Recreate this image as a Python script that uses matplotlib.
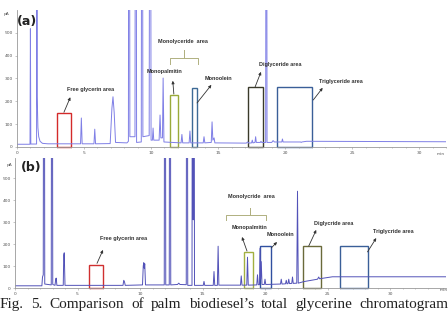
import matplotlib
matplotlib.use('Agg')
import matplotlib.pyplot as plt
from matplotlib.patches import Rectangle

# Trace (a): retention time (min) and signal (pA)
a_time = [0.0, 0.97, 1.0, 1.03, 1.46, 1.49, 1.51, 1.53, 1.56, 1.62, 1.72, 1.9, 2.3,
          4.74, 4.8, 4.86, 5.74, 5.8, 5.86, 6.95, 7.08, 7.16, 7.25, 7.35,
          8.2, 8.31, 8.36, 8.42, 8.8, 8.86, 8.92, 9.27, 9.33, 9.39, 9.86, 9.93, 10.0,
          10.1, 10.15, 10.2, 10.6, 10.67, 10.73, 10.85, 10.9, 10.96,
          12.24, 12.3, 12.36, 12.84, 12.9, 12.96, 13.89, 13.95, 14.01, 14.49, 14.55, 14.61, 14.7, 14.76,
          17.1, 17.2, 17.3, 17.5, 17.55, 17.6, 17.75, 17.8, 17.85, 18.15, 18.2, 18.25, 18.55, 18.6, 18.65,
          19.0, 19.1, 19.2, 19.75, 19.8, 19.85, 21.15, 21.2, 21.25, 21.6, 32.0]
a_signal = [12, 12, 518, 13, 13, 3000, 220, 160, 85, 45, 25, 16, 14,
            14, 127, 14, 14, 78, 14, 15, 170, 220, 150, 20,
            18, 25, 3000, 45, 45, 3000, 20, 22, 3000, 45, 50, 3000, 30,
            30, 83, 30, 30, 140, 40, 40, 302, 22,
            18, 55, 18, 18, 70, 18, 18, 45, 18, 20, 110, 30, 40, 18,
            17, 22, 17, 18, 30, 18, 20, 45, 20, 20, 25, 20, 20, 3000, 20,
            20, 28, 22, 22, 35, 22, 22, 20, 22, 25, 23]

# Trace (b)
b_time = [0.0, 2.15, 2.2, 2.26, 2.32, 2.38, 2.9, 2.96, 3.02, 3.2, 3.26, 3.3, 3.35, 3.86, 3.9, 3.94, 4.0,
          8.64, 8.7, 8.76, 8.82, 10.2, 10.26, 10.3, 10.34, 10.38, 10.44,
          11.94, 12.0, 12.06, 12.34, 12.4, 12.46, 13.0, 13.1, 13.2, 13.7, 13.76, 13.82,
          14.16, 14.22, 14.26, 14.3, 14.36, 15.06, 15.12, 15.18, 15.86, 15.92, 15.98, 16.19, 16.25, 16.31,
          18.04, 18.1, 18.16, 18.54, 18.6, 18.66, 19.34, 19.4, 19.46, 19.56, 19.6, 19.65, 19.7, 19.76,
          19.94, 20.0, 20.06, 21.24, 21.3, 21.36, 21.64, 21.7, 21.76, 21.84, 21.9, 21.96, 22.14, 22.2, 22.26,
          22.54, 22.6, 22.66, 23.1, 23.6, 24.2, 24.3, 24.36, 25.4, 34.5]
b_signal = [10, 10, 50, 60, 3000, 18, 14, 3000, 16, 12, 42, 45, 12, 12, 150, 160, 12,
            12, 35, 28, 12, 14, 100, 115, 90, 110, 14,
            14, 3000, 14, 14, 3000, 14, 16, 22, 16, 15, 3000, 12,
            12, 3000, 310, 3000, 12, 12, 30, 12, 12, 75, 12, 12, 190, 13,
            13, 55, 13, 13, 140, 13, 14, 60, 15, 15, 180, 40, 120, 16,
            16, 40, 16, 18, 40, 18, 19, 35, 19, 20, 40, 20, 21, 50, 21,
            22, 440, 22, 29, 34, 40, 50, 42, 51, 51]

# Marked areas: start, end (min) and height (pA)
a_box_start = [3.0, 11.4, 13.05, 17.2, 19.4]
a_box_end = [4.0, 12.0, 13.4, 18.35, 22.0]
a_box_top = [150, 228, 260, 262, 262]
a_box_color = ['#d42a2a', '#9aaa3a', '#3d6a96', '#3a3a2a', '#3a5f98']

b_box_start = [5.9, 18.3, 19.6, 23.0, 26.0]
b_box_end = [7.0, 19.0, 20.5, 24.5, 28.2]
b_box_top = [105, 165, 190, 190, 190]
b_box_color = ['#d03030', '#a2b040', '#3050a0', '#6a6a3a', '#3a5f98']

caption_words = ['Fig.', '5.', 'Comparison', 'of', 'palm', 'biodiesel\u2019s', 'total', 'glycerine', 'chromatogram']

fig = plt.figure(figsize=(4.48, 3.14), dpi=100)
ax_a = fig.add_axes([17/448, 1 - 147/314, 429/448, 137/314])
ax_b = fig.add_axes([15/448, 1 - 288/314, 431/448, 130/314])

ann_font = dict(fontsize=4, fontweight='bold', color='#333333', family='Liberation Sans')


def style_axis(ax, xmax, ymax):
    ax.set_xlim(0, xmax)
    ax.set_ylim(0, ymax)
    for s in ['top', 'right']:
        ax.spines[s].set_visible(False)
    for s in ['left', 'bottom']:
        ax.spines[s].set_color('#999999')
        ax.spines[s].set_linewidth(0.6)
    ax.set_xticks(range(0, 31, 5))
    ax.set_xticks(range(0, int(xmax) + 1), minor=True)
    ax.set_yticks(range(0, 501, 100))
    ax.tick_params(which='both', direction='out', length=1.5, width=0.4,
                   colors='#999999', labelsize=3.2, labelcolor='#555555', pad=1.5)
    ax.tick_params(which='minor', length=1)


def draw_boxes(ax, starts, ends, tops, colors):
    for s, e, h, c in zip(starts, ends, tops, colors):
        ax.add_patch(Rectangle((s, 0), e - s, h, fill=False, edgecolor=c, lw=1.0, clip_on=False))


def arrow(ax, x0, y0, x1, y1):
    ax.annotate('', xy=(x1, y1), xytext=(x0, y0),
                arrowprops=dict(arrowstyle='-|>', color='#333333', lw=0.6,
                                mutation_scale=4, shrinkA=0, shrinkB=0))


def brace(ax, x0, x1, xm, yb, yh, yt, color):
    ax.plot([x0, x0, xm, xm, xm, x1, x1], [yb, yh, yh, yt, yh, yh, yb],
            color=color, lw=0.7, solid_joinstyle='round')


# ---- panel (a)
style_axis(ax_a, 32, 600)
ax_a.plot(a_time, a_signal, color='#7f7fe6', lw=0.7)
draw_boxes(ax_a, a_box_start, a_box_end, a_box_top, a_box_color)

ax_a.text(3.75, 250, 'Free glycerin area', ha='left', va='center', **ann_font)
arrow(ax_a, 3.5, 152, 3.98, 218)
ax_a.text(9.7, 329, 'Monopalmitin', ha='left', va='center', **ann_font)
arrow(ax_a, 11.7, 232, 11.62, 290)
ax_a.text(14.0, 298, 'Monoolein', ha='left', va='center', **ann_font)
arrow(ax_a, 13.43, 193, 14.5, 272)
ax_a.text(10.5, 460, 'Monolyceride  area', ha='left', va='center', **ann_font)
brace(ax_a, 11.4, 13.5, 12.45, 362, 390, 425, '#b0b080')
ax_a.text(18.06, 360, 'Diglyceride area', ha='left', va='center', **ann_font)
arrow(ax_a, 17.76, 263, 18.2, 329)
ax_a.text(22.5, 285, 'Triglyceride area', ha='left', va='center', **ann_font)
arrow(ax_a, 22.1, 206, 22.8, 259)

# ---- panel (b)
style_axis(ax_b, 34.48, 591)
ax_b.plot(b_time, b_signal, color='#5252b8', lw=0.7)
draw_boxes(ax_b, b_box_start, b_box_end, b_box_top, b_box_color)

ax_b.text(6.8, 223, 'Free glycerin area', ha='left', va='center', **ann_font)
arrow(ax_b, 6.56, 112, 7.04, 173)
ax_b.text(17.0, 414, 'Monolycride  area', ha='left', va='center', **ann_font)
brace(ax_b, 16.9, 20.1, 18.8, 309, 332, 364, '#b0b080')
ax_b.text(20.2, 277, 'Monopalmitin', ha='right', va='center', **ann_font)
arrow(ax_b, 18.56, 168, 18.16, 232)
ax_b.text(20.1, 241, 'Monoolein', ha='left', va='center', **ann_font)
arrow(ax_b, 20.5, 182, 20.96, 209)
ax_b.text(23.9, 295, 'Diglycride area', ha='left', va='center', **ann_font)
arrow(ax_b, 23.5, 191, 24.1, 264)
ax_b.text(28.6, 255, 'Triglycride area', ha='left', va='center', **ann_font)
arrow(ax_b, 28.2, 164, 28.9, 227)

# axis captions and panel letters
small = dict(fontsize=3.2, color='#555555')
fig.text(4/448, 1 - 14/314, 'pA', ha='left', va='center', **small)
fig.text(7/448, 1 - 165/314, 'pA', ha='left', va='center', **small)
fig.text(437/448, 1 - 154/314, 'min', ha='left', va='center', **small)
fig.text(440/448, 1 - 290/314, 'min', ha='left', va='center', **small)
fig.text(17/448, 1 - 22/314, '(a)', ha='left', va='center', fontsize=9, fontweight='bold', color='#222222')
fig.text(21/448, 1 - 168/314, '(b)', ha='left', va='center', fontsize=9, fontweight='bold', color='#222222')

# caption, justified: measure the words and spread the gaps over the width
renderer = fig.canvas.get_renderer()
cap_texts = [fig.text(0, 1 - 308/314, w, ha='left', va='baseline', fontsize=11,
                      family='Liberation Serif', color='#222222') for w in caption_words]
widths = [t.get_window_extent(renderer).width for t in cap_texts]
line_end = 448.0
gap = (line_end - sum(widths)) / (len(widths) - 1)
x = 0.0
for t, w in zip(cap_texts, widths):
    t.set_x(x / 448)
    x += w + gap

fig.savefig('out.png', dpi=100)
